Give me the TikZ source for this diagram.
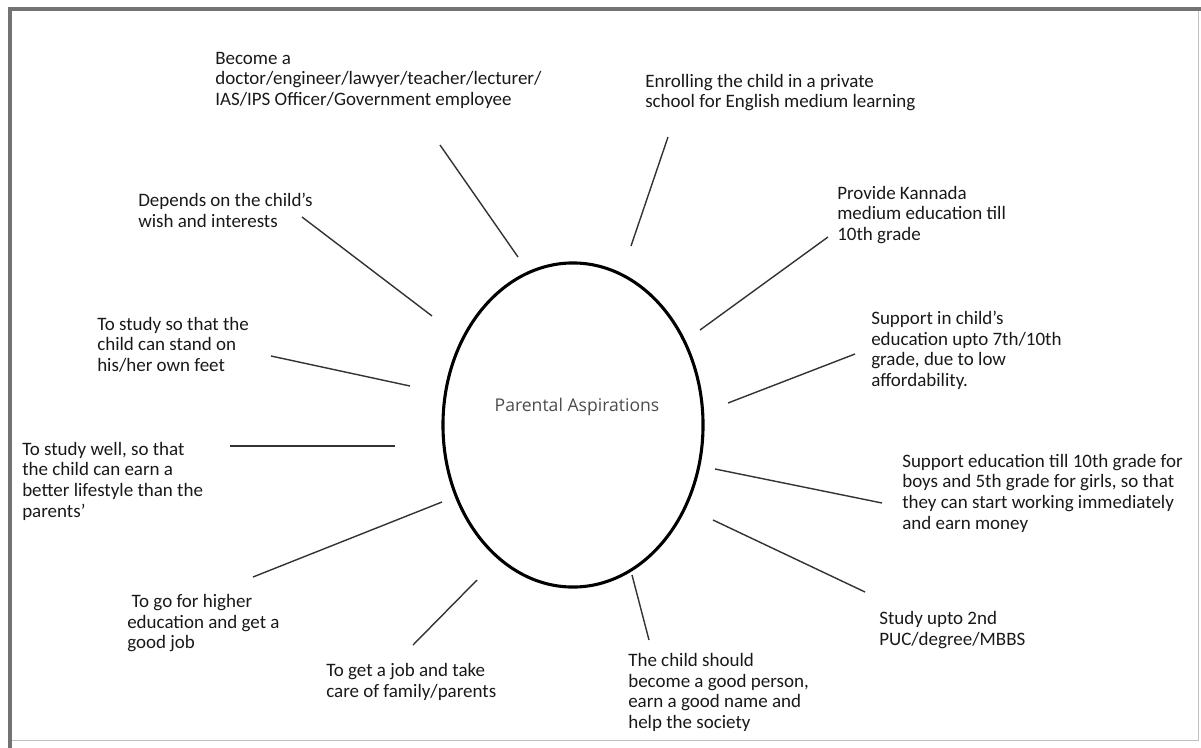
\documentclass[tikz,border=0pt]{standalone}
\usepackage{fontspec}
\setmainfont{Carlito}
\newfontfamily\hubfont{Open Sans}
\usetikzlibrary{shapes.geometric}

\tikzset{
  aim/.style={align=left, anchor=north west, inner sep=0pt, text=black!90,
    font=\fontsize{13.5pt}{14.6pt}\selectfont},
  spoke/.style={black!80, line width=1pt},
  hub/.style={ellipse, draw, line width=2.2pt, minimum width=6.5cm, minimum height=8.1cm}
}

\begin{document}
\begin{tikzpicture}[x=0.025cm, y=-0.025cm]
            \useasboundingbox (0,0) rectangle (1201,748);
            % Frame
            \draw[black!25, line width=0.6pt] (1198,9) -- (1198,740) -- (10,740);
            \draw[black!55, line width=2.4pt] (1201,9) -- (10,9) -- (10,748);
            % Centre
            \node[hub] (hub) at (573,425) {};
            \node[font=\hubfont\fontsize{12.5pt}{15pt}\selectfont, text=black!70] (title) at (577,407) {Parental Aspirations};
            % Aspirations
            \node[aim] (career) at (215,52) {Become a\\doctor/engineer/lawyer/teacher/lecturer/\\IAS/IPS Officer/Government employee};
            \node[aim] (english) at (645,74) {Enrolling the child in a private\\school for English medium learning};
            \node[aim] (wish) at (138,193) {Depends on the child's\\wish and interests};
            \node[aim] (kannada) at (837,186) {Provide Kannada\\medium education till\\10th grade};
            \node[aim] (feet) at (97,317) {To study so that the\\child can stand on\\his/her own feet};
            \node[aim] (afford) at (871,311) {Support in child's\\education upto 7th/10th\\grade, due to low\\affordability.};
            \node[aim] (life) at (22,442) {To study well, so that\\the child can earn a\\better lifestyle than the\\parents'};
            \node[aim] (girls) at (902,454) {Support education till 10th grade for\\boys and 5th grade for girls, so that\\they can start working immediately\\and earn money};
            \node[aim] (higher) at (127,594) {\ To go for higher\\education and get a\\good job};
            \node[aim] (puc) at (879,611) {Study upto 2nd\\PUC/degree/MBBS};
            \node[aim] (family) at (326,663) {To get a job and take\\care of family/parents};
            \node[aim] (good) at (628,653) {The child should\\become a good person,\\earn a good name and\\help the society};

            % Spoke ends
            \coordinate (o1) at (440,145);  \coordinate (i1) at (518,257);
            \coordinate (o2) at (668,137);  \coordinate (i2) at (631,246);
            \coordinate (o3) at (302,217);  \coordinate (i3) at (432,316);
            \coordinate (o4) at (828,237);  \coordinate (i4) at (700,330);
            \coordinate (o5) at (271,356);  \coordinate (i5) at (410,386);
            \coordinate (o6) at (855,354);  \coordinate (i6) at (728,403);
            \coordinate (o7) at (230,446);  \coordinate (i7) at (395,446);
            \coordinate (o8) at (253,577);  \coordinate (i8) at (442,502);
            \coordinate (o9) at (882,503);  \coordinate (i9) at (715,469);
            \coordinate (o10) at (865,592); \coordinate (i10) at (713,520);
            \coordinate (o11) at (413,645); \coordinate (i11) at (477,580);
            \coordinate (o12) at (649,640); \coordinate (i12) at (632,575);
            \foreach \n in {1,...,12}
                \draw[spoke] (o\n) -- (i\n);

\end{tikzpicture}
\end{document}
